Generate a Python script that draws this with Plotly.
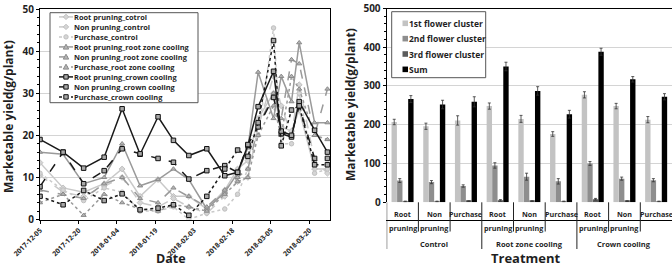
import plotly.graph_objects as go

W, H = 672, 267

# ---------------- left chart data ----------------
dates = ["2017-12-05", "2017-12-14", "2017-12-22", "2017-12-30", "2018-01-06",
         "2018-01-13", "2018-01-20", "2018-01-26", "2018-02-01", "2018-02-08",
         "2018-02-15", "2018-02-20", "2018-02-24", "2018-02-28", "2018-03-06",
         "2018-03-09", "2018-03-13", "2018-03-16", "2018-03-22", "2018-03-27"]

root_control = [13.5, 7.5, 6.5, 8.5, 12.0, 5.5, 9.5, 5.5, 5.5, 2.5, 7.0, 12.0, 14.0, 24.0, 30.0, 22.0, 21.0, 26.0, 12.0, 12.0]
non_control = [10.5, 6.5, 5.5, 8.0, 10.0, 4.0, 3.0, 5.0, 3.0, 1.5, 5.5, 9.0, 10.0, 22.0, 34.0, 27.0, 20.0, 32.0, 14.0, 11.0]
pur_control = [11.0, 7.0, 4.5, 7.5, 6.5, 2.0, 2.0, 3.0, 0.0, 1.5, 2.5, 6.0, 12.0, 20.0, 45.5, 18.0, 18.0, 30.0, 11.0, 12.0]
root_rzc = [16.0, 15.5, 8.5, 10.0, 18.0, 8.0, 9.5, 12.0, 9.5, 2.5, 6.5, 11.0, 17.0, 35.0, 24.0, 34.0, 28.0, 42.0, 23.0, 23.0]
non_rzc = [7.0, 6.0, 5.0, 8.5, 10.0, 5.0, 4.0, 7.5, 5.5, 3.0, 7.0, 10.0, 12.0, 22.0, 30.0, 24.0, 38.0, 37.0, 20.0, 31.0]
pur_rzc = [4.0, 6.0, 1.0, 6.0, 4.0, 2.5, 2.0, 3.5, 3.0, 2.0, 6.0, 9.0, 10.0, 20.0, 27.0, 20.0, 34.0, 31.0, 20.0, 19.0]
root_crown = [19.0, 16.0, 12.2, 14.8, 26.3, 15.5, 24.4, 18.8, 15.2, 16.8, 10.4, 11.2, 17.6, 26.8, 35.2, 20.4, 19.6, 28.0, 21.2, 16.0]
non_crown = [7.8, 16.0, 8.5, 11.6, 16.8, 15.6, 14.5, 13.6, 9.6, 11.6, 12.8, 11.2, 17.8, 22.0, 29.0, 21.0, 20.0, 27.0, 14.5, 14.5]
pur_crown = [5.5, 3.5, 6.9, 4.5, 6.1, 2.3, 2.7, 3.5, 1.0, 5.5, 12.0, 16.5, 15.0, 23.0, 42.5, 17.5, 26.0, 27.0, 13.0, 13.0]

series_names = ["Root pruning_cotrol", "Non pruning_control", "Purchase_control",
                "Root pruning_root zone cooling", "Non pruning_root zone cooling",
                "Purchase_root zone cooling", "Root pruning_crown cooling",
                "Non pruning_crown cooling", "Purchase_crown cooling"]
series_values = [root_control, non_control, pur_control, root_rzc, non_rzc, pur_rzc,
                 root_crown, non_crown, pur_crown]

# ---------------- right chart data ----------------
treat_groups = ["Control"] * 3 + ["Root zone cooling"] * 3 + ["Crown cooling"] * 3
treat_subs = ["Root pruning", "Non pruning", "Purchase"] * 3
first_cluster = [207, 196, 211, 248, 215, 176, 277, 248, 213]
second_cluster = [56, 52, 42, 95, 66, 54, 100, 61, 57]
third_cluster = [2, 2, 3, 5, 3, 2, 8, 3, 2]
sum_cluster = [266, 252, 259, 350, 287, 227, 388, 317, 272]
first_err = [7, 8, 12, 8, 9, 6, 8, 7, 8]
second_err = [5, 4, 3, 7, 9, 7, 5, 4, 4]
third_err = [1, 1, 1, 2, 1, 1, 2, 1, 1]
sum_err = [9, 11, 13, 11, 11, 10, 9, 7, 8]
bar_names = ["1st flower cluster", "2nd flower cluster", "3rd flower cluster", "Sum"]

# ---------------- styles ----------------
TXT = "#1f1f1f"
FONT = "Open Sans, sans-serif"
LIGHT, MID, DARK = "#c9c9c9", "#9a9a9a", "#1a1a1a"
line_colors = [LIGHT] * 3 + [MID] * 3 + [DARK] * 3
dashes = ["solid", "dash", "dot"] * 3
symbols = ["diamond", "diamond", "circle", "triangle-up", "triangle-up", "triangle-up",
           "square", "square", "square"]
mfill = ["#d5d5d5"] * 3 + ["#b5b5b5"] * 3 + ["#a8a8a8"] * 3
mline = ["#c0c0c0"] * 3 + ["#8a8a8a"] * 3 + ["#111111"] * 3
bar_colors = ["#c3c3c3", "#8e8e8e", "#5c5c5c", "#000000"]


def px(x):
    return x / W


def py(y):
    return 1 - y / H


fig = go.Figure()

for name, vals, c, d, s, mf, ml in zip(series_names, series_values, line_colors, dashes,
                                       symbols, mfill, mline):
    fig.add_trace(go.Scatter(
        x=dates, y=vals, name=name, mode="lines+markers",
        line=dict(color=c, width=1.5, dash=d),
        marker=dict(symbol=s, size=4.5, color=mf, line=dict(color=ml, width=1)),
        xaxis="x", yaxis="y", showlegend=False))

positions = list(range(len(treat_subs)))
for name, vals, errs, c in zip(bar_names,
                               [first_cluster, second_cluster, third_cluster, sum_cluster],
                               [first_err, second_err, third_err, sum_err], bar_colors):
    fig.add_trace(go.Bar(
        x=positions, y=vals, name=name, marker=dict(color=c, line=dict(width=0)),
        error_y=dict(type="data", array=errs, color="#333", thickness=0.8, width=1.5),
        xaxis="x2", yaxis="y2", showlegend=False,
        customdata=[g + " / " + s for g, s in zip(treat_groups, treat_subs)],
        hovertemplate="%{customdata}<br>%{y}<extra>" + name + "</extra>"))

L_X0, L_X1, L_Y0, L_Y1 = 40, 330, 9, 219.5
R_X0, R_X1, R_Y0, R_Y1 = 386.7, 672, 8.3, 202.3

tickfont = dict(family=FONT, size=10, color=TXT, weight="bold")

fig.update_layout(
    width=W, height=H, margin=dict(l=0, r=0, t=0, b=0, autoexpand=False),
    paper_bgcolor="white", plot_bgcolor="white",
    barmode="group", bargap=0.3, bargroupgap=0.03,
    xaxis=dict(domain=[px(L_X0), px(L_X1)], type="date", automargin=False,
               range=["2017-12-05", "2018-03-28"],
               tick0="2017-12-05", dtick=15 * 86400000, tickformat="%Y-%m-%d",
               tickangle=-45, tickfont=dict(family=FONT, size=7, color=TXT, weight="bold"),
               ticks="outside", ticklen=3, tickcolor="#000",
               showline=True, linecolor="#000", linewidth=1.2, mirror=True,
               showgrid=False, zeroline=False),
    yaxis=dict(domain=[py(L_Y1), py(L_Y0)], range=[0, 50], dtick=10, automargin=False,
               tickfont=tickfont, ticks="outside", ticklen=3, tickcolor="#000",
               minor=dict(dtick=2, ticks="outside", ticklen=2, tickcolor="#000"),
               showline=True, linecolor="#000", linewidth=1.2, mirror=True,
               showgrid=True, gridcolor="#d4d4d4", gridwidth=1, zeroline=False),
    xaxis2=dict(domain=[px(R_X0), px(R_X1)], type="linear", automargin=False,
                range=[-0.5, len(treat_subs) - 0.5], showticklabels=False, ticks="",
                showline=True, linecolor="#000", linewidth=1.2, mirror=True,
                showgrid=False, zeroline=False),
    yaxis2=dict(domain=[py(R_Y1), py(R_Y0)], range=[0, 500], dtick=100, anchor="x2",
                automargin=False,
                tickfont=tickfont, ticks="outside", ticklen=3, tickcolor="#000",
                minor=dict(dtick=20, ticks="outside", ticklen=2, tickcolor="#000"),
                showline=True, linecolor="#000", linewidth=1.2, mirror=True,
                showgrid=True, gridcolor="#d4d4d4", gridwidth=1, zeroline=False),
)

shapes = []
annotations = []

# category labels / separators under the bar chart
sub_font = dict(family=FONT, size=7.2, color=TXT, weight="bold")
grp_font = dict(family=FONT, size=7.5, color=TXT, weight="bold")
n = len(treat_subs)
for i in range(n):
    words = treat_subs[i].split(" ")
    if len(words) == 1:
        annotations.append(dict(xref="x2", yref="paper", x=i, y=py(214), text=words[0],
                                showarrow=False, xanchor="center", yanchor="middle",
                                font=sub_font))
    else:
        for j, w in enumerate(words):
            annotations.append(dict(xref="x2", yref="paper", x=i, y=py(214 + 13.7 * j), text=w,
                                    showarrow=False, xanchor="center", yanchor="middle",
                                    font=sub_font))
    # boundary at the left of category i
    if i == 0 or treat_groups[i] != treat_groups[i - 1]:
        shapes.append(dict(type="line", xref="x2", yref="paper", x0=i - 0.5, x1=i - 0.5,
                           y0=py(R_Y1), y1=py(249), line=dict(color="#222", width=1)))
    else:
        shapes.append(dict(type="line", xref="x2", yref="paper", x0=i - 0.5, x1=i - 0.5,
                           y0=py(R_Y1), y1=py(231.5), line=dict(color="#222", width=1)))
# group labels
seen = []
for g in treat_groups:
    if g not in seen:
        seen.append(g)
for g in seen:
    idx = [i for i, gg in enumerate(treat_groups) if gg == g]
    annotations.append(dict(xref="x2", yref="paper", x=sum(idx) / len(idx), y=py(244), text=g,
                            showarrow=False, xanchor="center", yanchor="middle", font=grp_font))

# ---- manual left legend ----
shapes.append(dict(type="rect", xref="paper", yref="paper", x0=px(50), x1=px(198),
                   y0=py(102.7), y1=py(12.7), line=dict(color="#555", width=1),
                   fillcolor="white", layer="above"))
for i, (name, c, d, s, mf, ml) in enumerate(zip(series_names, line_colors, dashes, symbols,
                                                 mfill, mline)):
    yc = 16.9 + 10 * i
    shapes.append(dict(type="line", xref="paper", yref="paper", x0=px(59), x1=px(73),
                       y0=py(yc), y1=py(yc), line=dict(color=c, width=1.5, dash=d),
                       layer="above"))
    r = 2.2
    cx = 66
    if s == "square":
        shapes.append(dict(type="rect", xref="paper", yref="paper", x0=px(cx - r), x1=px(cx + r),
                           y0=py(yc + r), y1=py(yc - r), fillcolor=mf,
                           line=dict(color=ml, width=1), layer="above"))
    elif s == "circle":
        shapes.append(dict(type="circle", xref="paper", yref="paper", x0=px(cx - r), x1=px(cx + r),
                           y0=py(yc + r), y1=py(yc - r), fillcolor=mf,
                           line=dict(color=ml, width=1), layer="above"))
    elif s == "diamond":
        path = "M {} {} L {} {} L {} {} L {} {} Z".format(
            px(cx), py(yc - r - 0.5), px(cx + r + 0.5), py(yc), px(cx), py(yc + r + 0.5),
            px(cx - r - 0.5), py(yc))
        shapes.append(dict(type="path", xref="paper", yref="paper", path=path, fillcolor=mf,
                           line=dict(color=ml, width=1), layer="above"))
    else:
        path = "M {} {} L {} {} L {} {} Z".format(
            px(cx), py(yc - r - 0.5), px(cx + r + 0.5), py(yc + r), px(cx - r - 0.5), py(yc + r))
        shapes.append(dict(type="path", xref="paper", yref="paper", path=path, fillcolor=mf,
                           line=dict(color=ml, width=1), layer="above"))
    annotations.append(dict(xref="paper", yref="paper", x=px(72), y=py(yc), text=name,
                            showarrow=False, xanchor="left", yanchor="middle",
                            font=dict(family=FONT, size=7.4, color=TXT, weight="bold")))

# ---- manual right legend ----
shapes.append(dict(type="rect", xref="paper", yref="paper", x0=px(391.7), x1=px(485.7),
                   y0=py(77.7), y1=py(11.7), line=dict(color="#555", width=1),
                   fillcolor="white", layer="above"))
for i, (name, c) in enumerate(zip(bar_names, bar_colors)):
    yc = 23.3 + 15.35 * i
    shapes.append(dict(type="rect", xref="paper", yref="paper", x0=px(402.5), x1=px(408),
                       y0=py(yc + 2.8), y1=py(yc - 2.8), fillcolor=c,
                       line=dict(width=0), layer="above"))
    annotations.append(dict(xref="paper", yref="paper", x=px(407), y=py(yc), text=name,
                            showarrow=False, xanchor="left", yanchor="middle",
                            font=dict(family=FONT, size=8.5, color=TXT, weight="bold")))

# ---- axis titles ----
title_font = dict(family=FONT, size=12, color=TXT, weight="bold")
annotations += [
    dict(xref="paper", yref="paper", x=px(9), y=py(117), text="Marketable yield(g/plant)",
         textangle=-90, showarrow=False, xanchor="center", yanchor="middle", font=title_font),
    dict(xref="paper", yref="paper", x=px(350), y=py(105), text="Marketable yield(g/plant)",
         textangle=-90, showarrow=False, xanchor="center", yanchor="middle", font=title_font),
    dict(xref="paper", yref="paper", x=px(171), y=py(258), text="Date", borderpad=0,
         showarrow=False, xanchor="center", yanchor="middle",
         font=dict(family=FONT, size=12.5, color=TXT, weight="bold")),
    dict(xref="paper", yref="paper", x=px(526), y=py(258), text="Treatment",
         showarrow=False, xanchor="center", yanchor="middle",
         font=dict(family=FONT, size=13, color=TXT, weight="bold")),
]

fig.update_layout(shapes=shapes, annotations=annotations)
fig.write_html("out.html")
